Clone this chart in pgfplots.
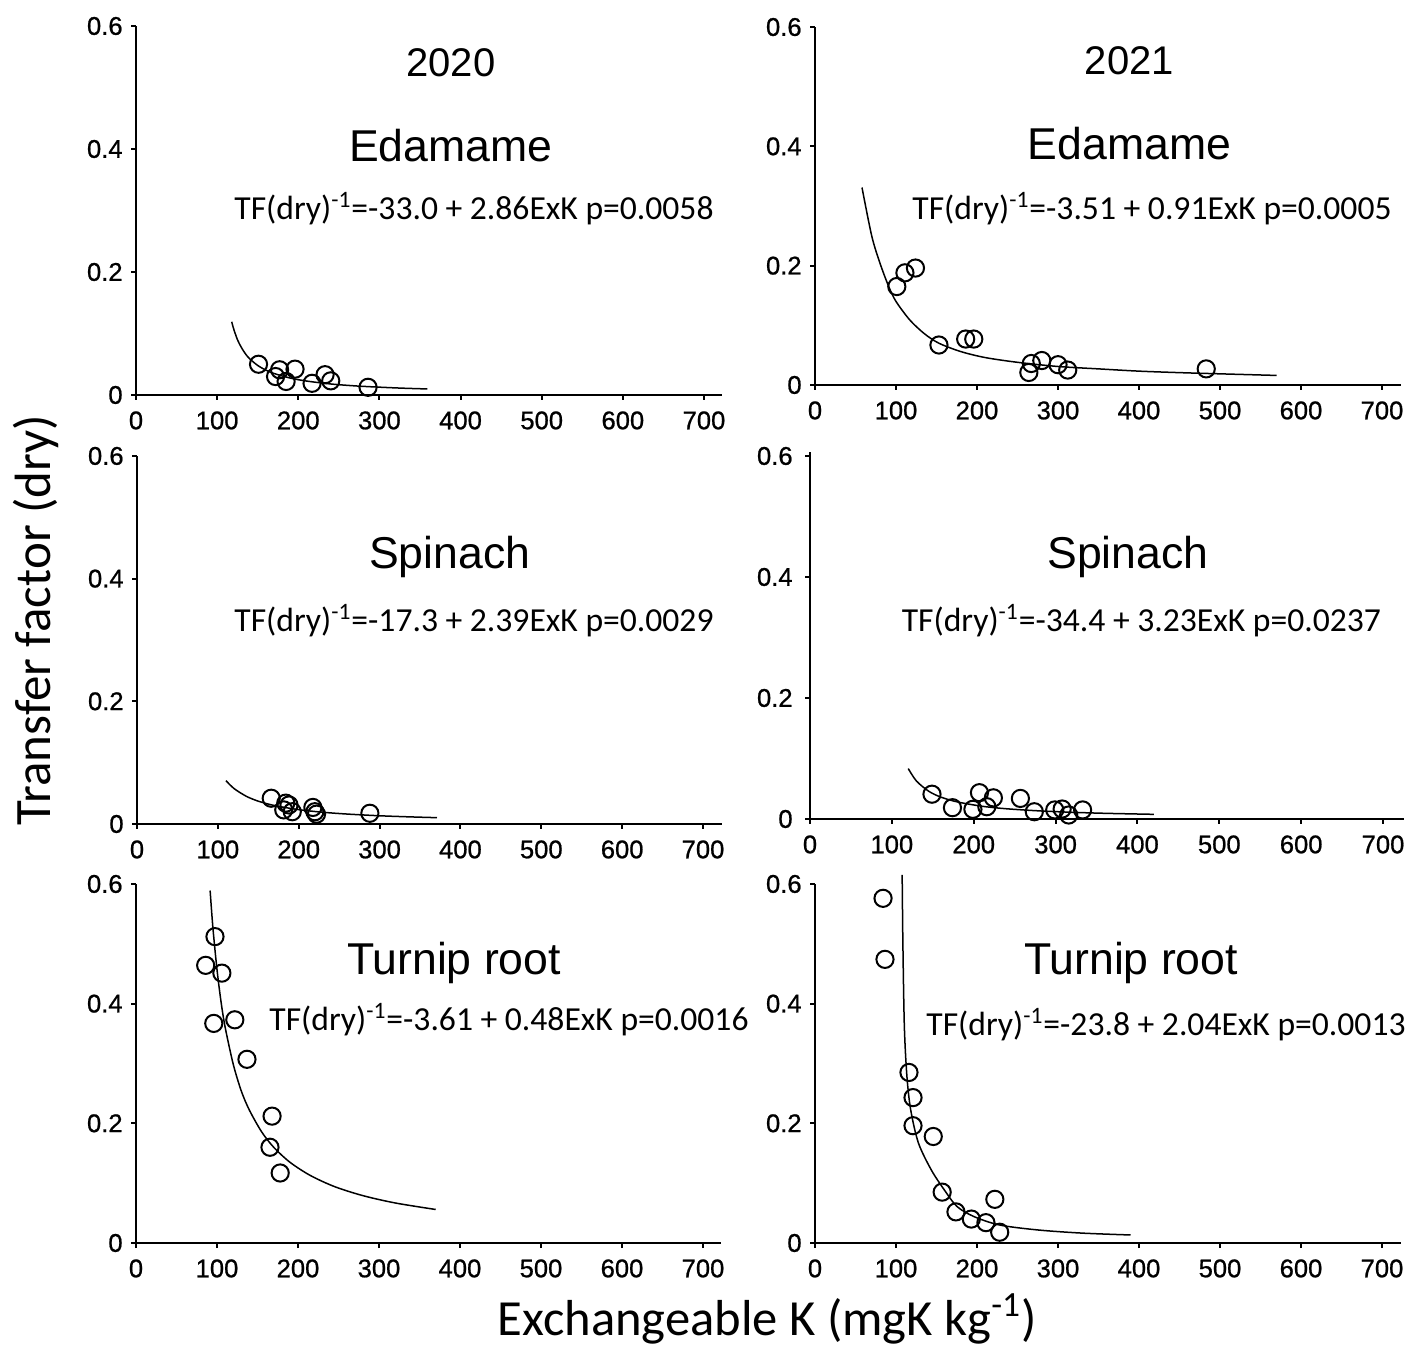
\documentclass[border=0pt]{standalone}
\usepackage{fontspec}
\setmainfont{Liberation Sans}
\newfontfamily\carl{Carlito}
\newfontfamily\tickf[FakeBold=0.8]{Liberation Sans}
\usepackage{pgfplots}
\pgfplotsset{compat=1.18}
\pgfplotsset{
  panel/.style={
    axis lines=left, axis line style={line width=1pt, -},
    clip=false, anchor=origin,
    xmin=0, ymin=0, ymax=0.6,
    xtick={0,100,200,300,400,500,600,700}, xticklabels={0,100,200,300,400,500,600,700},
    ytick={0,0.2,0.4,0.6}, yticklabels={0,0.2,0.4,0.6},
    tick align=outside, major tick length=2.5pt, tick style={line width=1pt, black},
    ticklabel style={font=\tickf\fontsize{12.8}{14}\selectfont, inner sep=0pt},
    xticklabel style={yshift=-5.5pt},
    yticklabel style={xshift=-4pt},
  },
  pts/.style={only marks, mark=o, mark size=4.3pt, mark options={line width=1pt, black}},
  fitc/.style={no marks, smooth, line width=0.75pt, black},
}
\begin{document}
\begin{tikzpicture}
\useasboundingbox (0,0) rectangle (714pt,674pt);
% ---------- P1 ----------
\begin{axis}[panel, at={(68pt,476.5pt)}, x=0.4057pt, y=307.5pt, xmax=722]
\addplot[fitc] coordinates {(118,0.119) (120,0.109) (125,0.090) (130,0.077) (135,0.0667) (140,0.059) (150,0.048) (160,0.0405) (170,0.035) (190,0.0275) (210,0.0227) (240,0.0179) (270,0.0148) (300,0.0127) (330,0.0110) (359,0.0098)};
\addplot[pts] coordinates {(151,0.050) (177,0.041) (172,0.030) (185,0.022) (196,0.042) (217,0.019) (233,0.033) (240,0.023) (286,0.0125)};
\end{axis}
% ---------- P2 ----------
\begin{axis}[panel, at={(407.5pt,481.5pt)}, x=0.405pt, y=298.3pt, xmax=723]
\addplot[fitc] coordinates {(58,0.331) (70,0.25) (80,0.205) (91,0.165) (100,0.140) (117,0.109) (135,0.086) (153,0.070) (180,0.056) (210,0.046) (250,0.038) (300,0.031) (350,0.027) (400,0.0232) (450,0.0207) (500,0.0187) (570,0.0160)};
\addplot[pts] coordinates {(101,0.165) (111,0.188) (124,0.196) (153,0.067) (186,0.077) (196,0.077) (264,0.021) (267,0.036) (280,0.041) (300,0.034) (312,0.025) (483,0.027)};
\end{axis}
% ---------- P3 ----------
\begin{axis}[panel, at={(68.5pt,262pt)}, x=0.4043pt, y=306.7pt, xmax=723]
\addplot[fitc] coordinates {(110,0.0707) (120,0.0578) (135,0.0453) (150,0.0372) (170,0.0301) (200,0.0234) (230,0.0191) (260,0.0162) (300,0.0134) (340,0.0115) (371,0.0103)};
\addplot[pts] coordinates {(166,0.042) (184,0.034) (188,0.031) (181.5,0.023) (192,0.020) (217.5,0.027) (220,0.020) (222,0.016) (288,0.0175)};
\end{axis}
% ---------- P4 ----------
\begin{axis}[panel, at={(405pt,264.5pt)}, x=0.4093pt, y=302.5pt, xmax=725, ymax=0.606, yticklabel style={xshift=-2pt}]
\addplot[fitc] coordinates {(120,0.0833) (130,0.0628) (145,0.0459) (160,0.0361) (180,0.0282) (210,0.0211) (240,0.0169) (280,0.0134) (320,0.0111) (360,0.0094) (420,0.0077)};
\addplot[pts] coordinates {(149,0.041) (174,0.0187) (199,0.016) (207,0.0435) (216,0.0203) (224,0.035) (257,0.034) (274,0.012) (299,0.015) (308,0.0165) (316,0.0066) (333,0.015)};
\end{axis}
% ---------- P5 ----------
\begin{axis}[panel, at={(68pt,52.5pt)}, x=0.405pt, y=299.2pt, xmax=722]
\addplot[fitc] coordinates {(91.5,0.589) (95,0.526) (100,0.457) (105,0.403) (110,0.361) (120,0.299) (130,0.254) (140,0.222) (155,0.186) (170,0.160) (190,0.135) (215,0.113) (245,0.0943) (280,0.0792) (320,0.0669) (370,0.0560)};
\addplot[pts] coordinates {(86,0.464) (97.5,0.512) (106,0.451) (96,0.367) (122,0.373) (137,0.307) (168,0.212) (165.4,0.160) (178,0.117)};
\end{axis}
% ---------- P6 ----------
\begin{axis}[panel, at={(407.5pt,52.5pt)}, x=0.405pt, y=299.2pt, xmax=723]
\addplot[fitc] coordinates {(107.6,0.615) (108.5,0.50) (110.3,0.362) (113.5,0.278) (118.2,0.222) (127.7,0.167) (143.6,0.122) (159.5,0.089) (175.3,0.061) (196.5,0.044) (228.2,0.030) (275.8,0.0217) (330,0.0165) (389.5,0.0134)};
\addplot[pts] coordinates {(84,0.576) (86.4,0.474) (116,0.285) (121,0.243) (121,0.196) (146,0.178) (157,0.085) (174,0.052) (193,0.040) (211,0.034) (222,0.073) (228,0.018)};
\end{axis}
% ---------- texts ----------
\tikzset{ttl/.style={anchor=base, inner sep=0pt, font=\fontsize{22.3}{26}\selectfont},
         yr/.style={anchor=base, inner sep=0pt, font=\fontsize{20}{24}\selectfont},
         eqn/.style={anchor=base west, inner sep=0pt, font=\carl\fontsize{16.8}{20}\selectfont}}
\node[yr] at (225.4pt,635.5pt) {2020};
\node[yr] at (564.7pt,636.5pt) {2021};
\node[ttl] at (225.4pt,593.2pt) {Edamame};
\node[ttl] at (564.8pt,594pt) {Edamame};
\node[ttl] at (224.9pt,389.8pt) {Spinach};
\node[ttl] at (564pt,389.8pt) {Spinach};
\node[ttl] at (227pt,186.5pt) {Turnip root};
\node[ttl] at (565.5pt,186.5pt) {Turnip root};
\node[eqn] at (117pt,564pt) {TF(dry)\textsuperscript{-1}=-33.0 + 2.86ExK p=0.0058};
\node[eqn] at (456pt,564pt) {TF(dry)\textsuperscript{-1}=-3.51 + 0.91ExK p=0.0005};
\node[eqn] at (117pt,358pt) {TF(dry)\textsuperscript{-1}=-17.3 + 2.39ExK p=0.0029};
\node[eqn] at (450.7pt,358pt) {TF(dry)\textsuperscript{-1}=-34.4 + 3.23ExK p=0.0237};
\node[eqn] at (134.5pt,158.5pt) {TF(dry)\textsuperscript{-1}=-3.61 + 0.48ExK p=0.0016};
\node[eqn] at (463pt,156pt) {TF(dry)\textsuperscript{-1}=-23.8 + 2.04ExK p=0.0013};
\node[rotate=90, anchor=base, inner sep=0pt, font=\carl\fontsize{25.5}{30}\selectfont] at (25pt,364pt) {Transfer factor (dry)};
\node[anchor=base, inner sep=0pt, font=\carl\fontsize{25.3}{30}\selectfont] at (383.5pt,6.5pt) {Exchangeable K (mgK kg\textsuperscript{-1})};
\end{tikzpicture}
\end{document}
